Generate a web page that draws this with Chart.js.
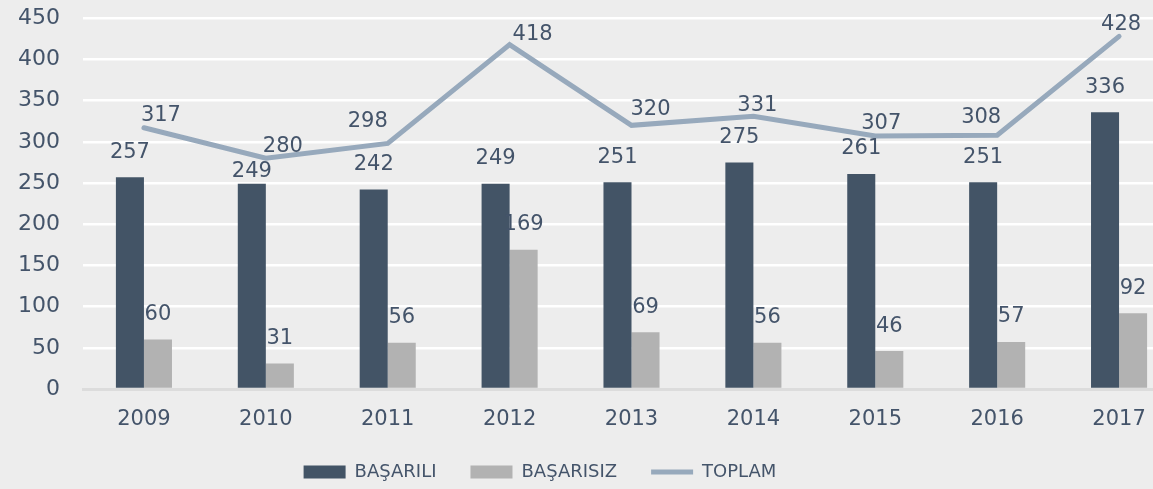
<!DOCTYPE html>
<html>
<head>
<meta charset="utf-8">
<script src="https://cdn.jsdelivr.net/npm/chart.js@4"></script>
<style>
  html, body { margin: 0; padding: 0; background: #ededed; overflow: hidden; }
  #wrap { width: 1180px; height: 509px; margin-top: -18px; }
</style>
</head>
<body>
<div id="wrap"><canvas id="chart"></canvas></div>
<script>
const years = ['2009', '2010', '2011', '2012', '2013', '2014', '2015', '2016', '2017'];
const basarili = [257, 249, 242, 249, 251, 275, 261, 251, 336];
const basarisiz = [60, 31, 56, 169, 69, 56, 46, 57, 92];
const toplam = [317, 280, 298, 418, 320, 331, 307, 308, 428];
const yTicks = [0, 50, 100, 150, 200, 250, 300, 350, 400, 450];

const textColor = '#44546a';
const labelFont = '21px "DejaVu Sans"';

// label placement: default offsets per dataset type, plus nudges
// so the numbers stay clear of the line
const barOffset = [0, -25];
const lineOffset = [17, -12];
const nudges = {
  'BAŞARILI': { 1: [0, -12] },
  'TOPLAM': { 2: [-20, -22], 3: [23, -10], 4: [19, -16], 5: [4, -11], 6: [6, -12], 7: [-16, -18], 8: [2, -12] }
};

const valueLabels = {
  id: 'valueLabels',
  afterDatasetsDraw(chart) {
    const ctx = chart.ctx;
    ctx.save();
    ctx.font = labelFont;
    ctx.fillStyle = textColor;
    ctx.textAlign = 'center';
    ctx.textBaseline = 'middle';
    chart.data.datasets.forEach((ds, di) => {
      const meta = chart.getDatasetMeta(di);
      meta.data.forEach((el, i) => {
        let off = ds.type === 'line' ? lineOffset : barOffset;
        if (nudges[ds.label] && nudges[ds.label][i]) off = nudges[ds.label][i];
        ctx.fillText(ds.data[i], el.x + off[0], el.y + off[1]);
      });
    });
    ctx.restore();
  }
};

new Chart(document.getElementById('chart'), {
  data: {
    labels: years,
    datasets: [
      {
        type: 'line',
        label: 'TOPLAM',
        data: toplam,
        borderColor: '#97a9bc',
        backgroundColor: '#97a9bc',
        borderWidth: 5,
        borderCapStyle: 'round',
        pointRadius: 0,
        pointStyle: 'line',
        tension: 0,
        order: 0
      },
      {
        type: 'bar',
        label: 'BAŞARILI',
        data: basarili,
        backgroundColor: '#435466',
        pointStyle: 'rect',
        categoryPercentage: 0.46,
        barPercentage: 1,
        order: 1
      },
      {
        type: 'bar',
        label: 'BAŞARISIZ',
        data: basarisiz,
        backgroundColor: '#b2b2b2',
        pointStyle: 'rect',
        categoryPercentage: 0.46,
        barPercentage: 1,
        order: 2
      }
    ]
  },
  options: {
    responsive: true,
    maintainAspectRatio: false,
    animation: false,
    // the negative left padding pulls the legend's centre to the left of the plot's
    layout: { padding: { top: 1, left: -100, right: 0, bottom: 0 } },
    scales: {
      x: {
        grid: { display: false, drawTicks: false },
        border: { display: true, color: '#dcdcdc', width: 3 },
        ticks: { color: textColor, font: { family: 'DejaVu Sans', size: 21, lineHeight: 1 }, padding: 20, maxRotation: 0 },
        afterFit(scale) { scale.height = 40; }
      },
      y: {
        min: 0,
        max: 450,
        afterBuildTicks(scale) { scale.ticks = yTicks.map(v => ({ value: v })); },
        grid: { color: '#ffffff', lineWidth: 2.5, drawTicks: false },
        border: { display: false },
        ticks: { color: textColor, font: { family: 'DejaVu Sans', size: 22 }, padding: 23 },
        afterFit(scale) { scale.width = 183; }
      }
    },
    plugins: {
      legend: {
        position: 'bottom',
        labels: {
          sort: (a, b) => (a.datasetIndex === 0) - (b.datasetIndex === 0) || a.datasetIndex - b.datasetIndex,
          usePointStyle: true,
          pointStyleWidth: 42,
          boxHeight: 13,
          padding: 34,
          color: textColor,
          font: { family: 'DejaVu Sans', size: 18 }
        }
      },
      tooltip: { enabled: false }
    }
  },
  plugins: [valueLabels]
});
</script>
</body>
</html>
